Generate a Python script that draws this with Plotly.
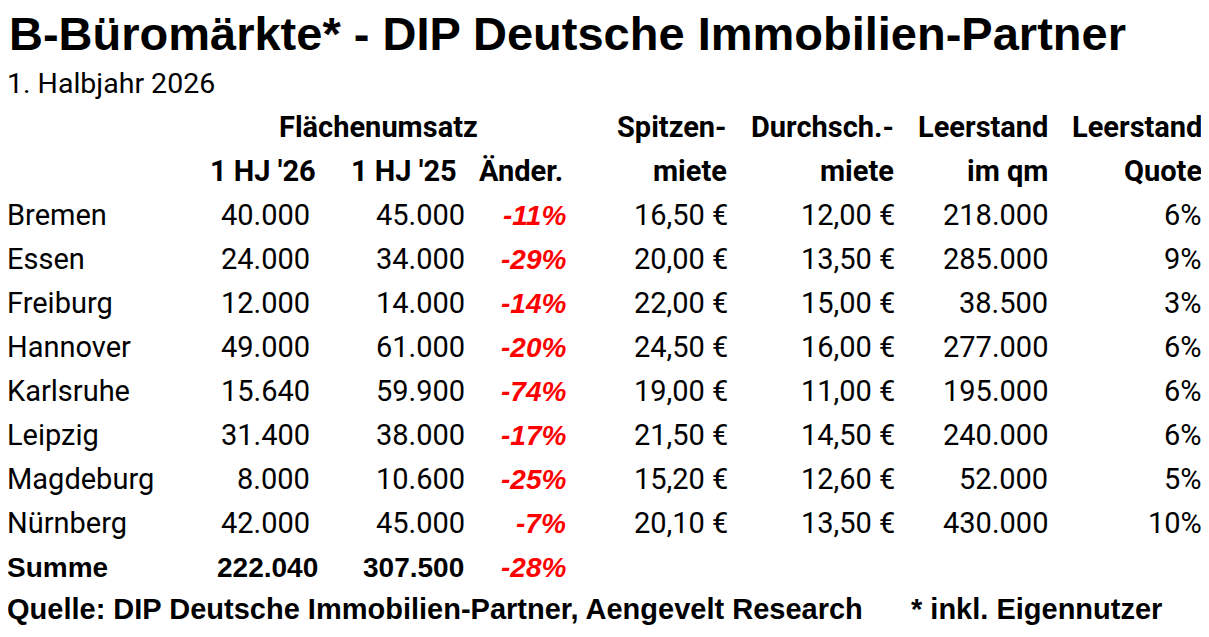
import plotly.graph_objects as go

# Tabelle: B-Büromärkte, 1. Halbjahr 2026
title = "B-Büromärkte* - DIP Deutsche Immobilien-Partner"
subtitle = "1. Halbjahr 2026"
source = "Quelle: DIP Deutsche Immobilien-Partner, Aengevelt Research"
footnote = "* inkl. Eigennutzer"

cities = ["Bremen", "Essen", "Freiburg", "Hannover", "Karlsruhe", "Leipzig",
          "Magdeburg", "Nürnberg"]
umsatz_26 = [40000, 24000, 12000, 49000, 15640, 31400, 8000, 42000]
umsatz_25 = [45000, 34000, 14000, 61000, 59900, 38000, 10600, 45000]
aenderung = [-11, -29, -14, -20, -74, -17, -25, -7]
spitzenmiete = [16.50, 20.00, 22.00, 24.50, 19.00, 21.50, 15.20, 20.10]
durchschnittsmiete = [12.00, 13.50, 15.00, 16.00, 11.00, 14.50, 12.60, 13.50]
leerstand_qm = [218000, 285000, 38500, 277000, 195000, 240000, 52000, 430000]
leerstand_quote = [6, 9, 3, 6, 6, 6, 5, 10]

summe_label = "Summe"
summe_26 = 222040
summe_25 = 307500
summe_aenderung = -28

header_top = ["Flächenumsatz", "Spitzen-", "Durchsch.-", "Leerstand", "Leerstand"]
header_bottom = ["1 HJ '26", "1 HJ '25", "Änder.", "miete", "miete", "im qm", "Quote"]


def de_int(v):
    return f"{v:,}".replace(",", ".")


def de_eur(v):
    return f"{v:.2f}".replace(".", ",") + " €"


TABLE_FONT = "Roboto"
ARIAL = "Liberation Sans"
RED = "#ff0000"

# column right edges (pixels) and row layout
col_right = [310, 465, 566, 728, 895, 1048, 1202]
head_right = [316, 457, 563, 727, 894, 1048, 1202]
row0 = 215
row_h = 44

# the page body has an 8px margin, so the figure starts at (8, 8)
OFF = 8
W, H = 1209, 637

fig = go.Figure()
ann = []


def add(text, x, y, anchor="right", size=29, bold=False, italic=False,
        color="black", family=TABLE_FONT):
    t = text
    if bold:
        t = "<b>" + t + "</b>"
    if italic:
        t = "<i>" + t + "</i>"
    shift = 0
    if x < OFF + 1:
        shift = x - (OFF + 1)
        x = OFF + 1
    ann.append(dict(text=t, x=x, y=y, xref="x", yref="y", xanchor=anchor,
                    yanchor="middle", showarrow=False, xshift=shift,
                    borderpad=0, borderwidth=0,
                    font=dict(family=family, size=size, color=color)))


add(title, 9, 33, anchor="left", size=47, bold=True, family=ARIAL)
add(subtitle, 7, 83, anchor="left", size=28.5)

# headers
add(header_top[0], 378, 127, anchor="center", bold=True)
for txt, x in zip(header_top[1:], head_right[3:]):
    add(txt, x, 127, bold=True)
for txt, x in zip(header_bottom, head_right):
    add(txt, x, 171, bold=True)

# body rows
for i, city in enumerate(cities):
    y = row0 + i * row_h
    add(city, 7, y, anchor="left")
    add(de_int(umsatz_26[i]), col_right[0], y)
    add(de_int(umsatz_25[i]), col_right[1], y)
    add(f"{aenderung[i]}%", col_right[2], y, size=28, bold=True, italic=True,
        color=RED, family=ARIAL)
    add(de_eur(spitzenmiete[i]), col_right[3], y)
    add(de_eur(durchschnittsmiete[i]), col_right[4], y)
    add(de_int(leerstand_qm[i]), col_right[5], y)
    add(f"{leerstand_quote[i]}%", col_right[6], y)

# sum row
ys = row0 + len(cities) * row_h
add(summe_label, 7, ys, anchor="left", size=28, bold=True, family=ARIAL)
add(de_int(summe_26), 318, ys, size=28, bold=True, family=ARIAL)
add(de_int(summe_25), 464, ys, size=28, bold=True, family=ARIAL)
add(f"{summe_aenderung}%", 566, ys, size=28, bold=True, italic=True,
    color=RED, family=ARIAL)

# source line
add(source, 7, 609, anchor="left", size=29, bold=True, family=ARIAL)
add(footnote, 911, 609, anchor="left", size=29, bold=True, family=ARIAL)

fig.update_layout(
    annotations=ann,
    width=W - OFF, height=H - OFF,
    margin=dict(l=0, r=0, t=0, b=0),
    paper_bgcolor="white", plot_bgcolor="white",
    xaxis=dict(range=[OFF, W], visible=False, fixedrange=True),
    yaxis=dict(range=[H, OFF], visible=False, fixedrange=True),
    showlegend=False,
)

fig.write_html("out.html")
